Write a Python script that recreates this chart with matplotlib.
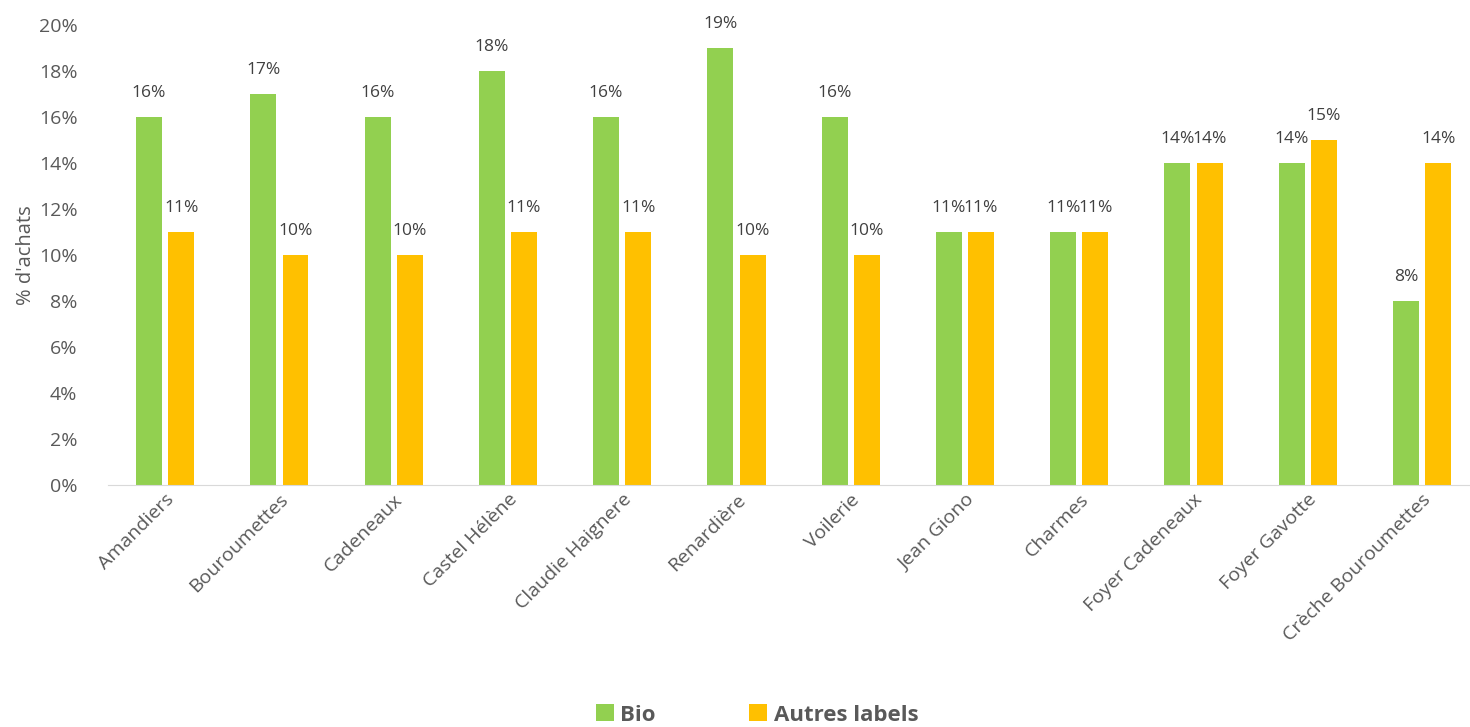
import matplotlib
matplotlib.use("Agg")
import matplotlib.pyplot as plt
import numpy as np
from matplotlib.ticker import FuncFormatter

categories = ["Amandiers", "Bouroumettes", "Cadeneaux", "Castel Hélène", "Claudie Haignere",
              "Renardière", "Voilerie", "Jean Giono", "Charmes", "Foyer Cadeneaux",
              "Foyer Gavotte", "Crèche Bouroumettes"]
bio = [16, 17, 16, 18, 16, 19, 16, 11, 11, 14, 14, 8]
autres = [11, 10, 10, 11, 11, 10, 10, 11, 11, 14, 15, 14]
series_names = ["Bio", "Autres labels"]
colors = ["#92D050", "#FFC000"]
text_color = "#595959"

plt.rcParams['font.family'] = ['Open Sans', 'DejaVu Sans']

fig = plt.figure(figsize=(14.7, 7.27), dpi=100)
ax = fig.add_axes([108/1470, (727-485)/727, (1470-108)/1470, 460/727])

x = np.arange(len(categories))
w = 0.227
gap = 0.055
b1 = ax.bar(x - (w+gap)/2, bio, w, color=colors[0], label=series_names[0])
b2 = ax.bar(x + (w+gap)/2, autres, w, color=colors[1], label=series_names[1])
for bars in (b1, b2):
    for r in bars:
        ax.text(r.get_x() + r.get_width()/2, r.get_height() + 0.7, f"{r.get_height():.0f}%",
                ha="center", va="bottom", fontsize=12.5, color="#404040")

ax.set_xlim(-0.5, 11.42)
ax.set_ylim(0, 20)
ax.set_yticks(np.arange(0, 21, 2))
ax.yaxis.set_major_formatter(FuncFormatter(lambda v, p: f"{v:.0f}%"))
ax.set_xticks(x)
ax.set_xticklabels(categories, rotation=45, ha="right", rotation_mode="anchor")
ax.tick_params(axis="both", length=0, labelsize=14, colors=text_color)
ax.tick_params(axis="y", pad=22)
ax.tick_params(axis="x", pad=4)
for s in ["top", "right", "left"]:
    ax.spines[s].set_visible(False)
ax.spines["bottom"].set_color("#D9D9D9")
ax.set_ylabel("% d'achats", fontsize=14.5, color=text_color, labelpad=2)

leg = fig.legend(loc="center", bbox_to_anchor=(757/1470, 1 - 715/727), ncol=2, frameon=False,
                 handlelength=0.8, handleheight=0.8, columnspacing=4.2, handletextpad=0.3,
                 prop={"size": 16, "weight": "bold"})
for t in leg.get_texts():
    t.set_color(text_color)

fig.savefig("out.png", dpi=100)
